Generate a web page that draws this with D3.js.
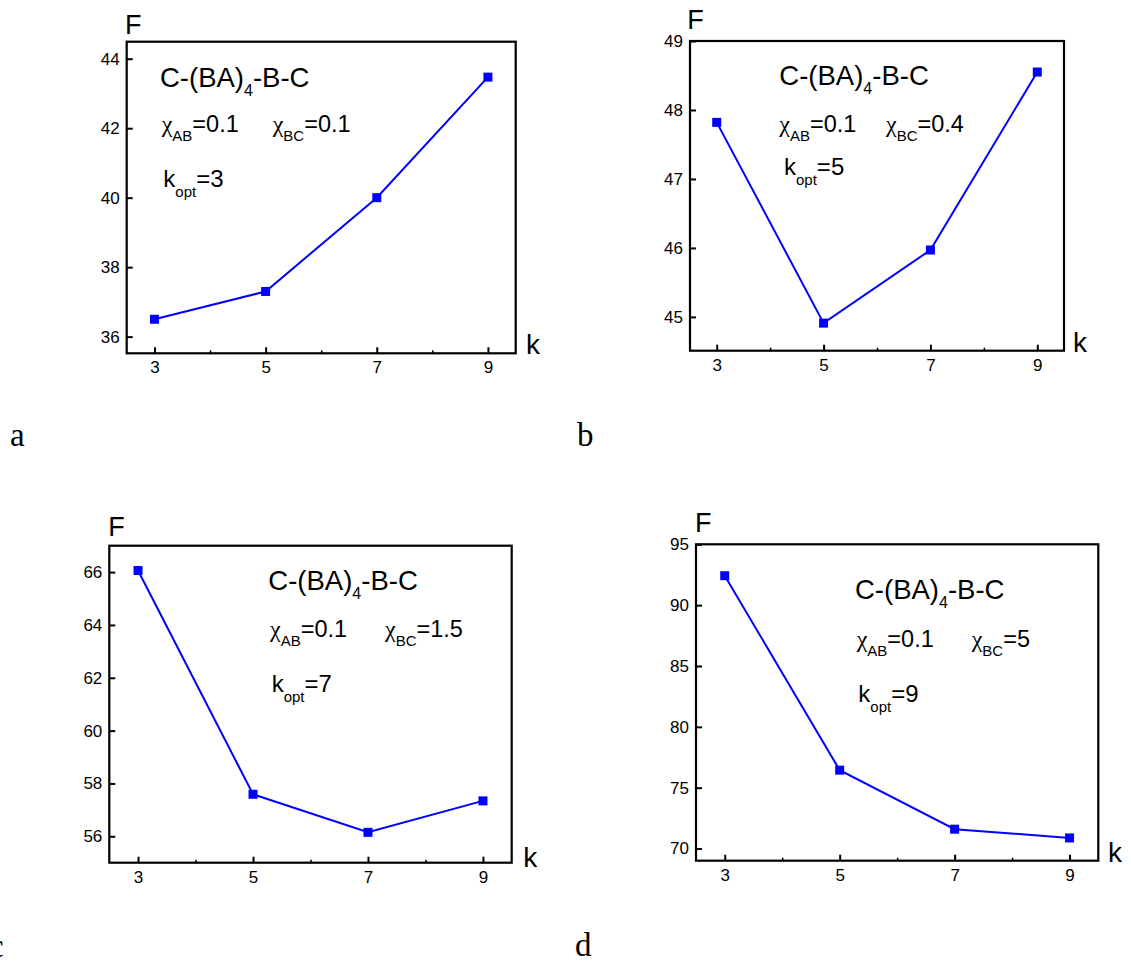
<!DOCTYPE html>
<html>
<head>
<meta charset="utf-8">
<script src="https://cdn.jsdelivr.net/npm/d3@7"></script>
<style>
  html, body { margin: 0; padding: 0; background: #ffffff; }
  svg { display: block; }
  .tick text { font-family: "Liberation Sans", Arial, sans-serif; }
</style>
</head>
<body>
<svg id="fig" width="1131" height="962"></svg>
<script>
// Free energy F versus number of blocks k for C-(BA)4-B-C
const kValues = [3, 5, 7, 9];
const fA = [36.5, 37.3, 40.0, 43.47];
const fB = [47.82, 44.91, 45.97, 48.55];
const fC = [66.06, 57.59, 56.15, 57.34];
const fD = [92.42, 76.44, 71.59, 70.87];

const ticksA = [36, 38, 40, 42, 44];
const ticksB = [45, 46, 47, 48, 49];
const ticksC = [56, 58, 60, 62, 64, 66];
const ticksD = [70, 75, 80, 85, 90, 95];

const chiAB = ["0.1", "0.1", "0.1", "0.1"];
const chiBC = ["0.1", "0.4", "1.5", "5"];
const kOpt = ["3", "5", "7", "9"];
const panelNames = ["a", "b", "c", "d"];

const xDomain = [2.5, 9.5];
const minorK = [4, 6, 8];

// frame boxes and text anchors for each panel
const panels = [
  { f: fA, ticks: ticksA, y: [35.52, 44.49],
    box: [126.7, 41.7, 515.7, 353.3],
    title: [160, 87.3], chi: [161.7, 131.7], chi2: 272.7, kopt: [163.3, 186.7],
    F: [125, 34.3], k: [526, 354], tag: [10, 446] },
  { f: fB, ticks: ticksB, y: [44.51, 49],
    box: [690, 41, 1064, 350.7],
    title: [779.3, 85], chi: [779.3, 131.7], chi2: 886, kopt: [784, 175],
    F: [687.3, 29.3], k: [1073, 351.7], tag: [577, 446] },
  { f: fC, ticks: ticksC, y: [55, 67],
    box: [109.3, 545.7, 511.7, 862.7],
    title: [268.3, 590], chi: [270, 636.7], chi2: 385, kopt: [271.7, 691.7],
    F: [108.3, 536], k: [523.3, 866.7], tag: [-11, 957] },
  { f: fD, ticks: ticksD, y: [69, 95],
    box: [696, 544.3, 1098.3, 860.7],
    title: [855, 599.3], chi: [856.7, 646.7], chi2: 971.7, kopt: [858.3, 701.7],
    F: [695, 531.7], k: [1108, 861.7], tag: [575, 956] }
];

const svg = d3.select("#fig");
const sans = "'Liberation Sans', Arial, Helvetica, sans-serif";
const greek = "'Liberation Serif', 'Times New Roman', serif";
const blue = "#0000ff";

panels.forEach((p, i) => {
  const [x0, y0, x1, y1] = p.box;
  const x = d3.scaleLinear().domain(xDomain).range([x0, x1]);
  const y = d3.scaleLinear().domain(p.y).range([y1, y0]);
  const g = svg.append("g");

  // axes with inward ticks
  const xAxis = g.append("g")
    .attr("transform", `translate(0,${y1})`)
    .call(d3.axisBottom(x).tickValues(kValues).tickSize(-6).tickPadding(8).tickFormat(d3.format("d")));
  xAxis.selectAll(".tick text").attr("font-size", 17).attr("fill", "#000");
  xAxis.selectAll(".tick line").attr("stroke", "#000").attr("stroke-width", 2);
  xAxis.select(".domain").remove();

  const xMinor = g.append("g")
    .attr("transform", `translate(0,${y1})`)
    .call(d3.axisBottom(x).tickValues(minorK).tickSize(-3).tickFormat(""));
  xMinor.selectAll(".tick line").attr("stroke", "#000").attr("stroke-width", 1.5);
  xMinor.select(".domain").remove();

  const yAxis = g.append("g")
    .attr("transform", `translate(${x0},0)`)
    .call(d3.axisLeft(y).tickValues(p.ticks).tickSize(-6).tickPadding(7).tickFormat(d3.format("d")));
  yAxis.selectAll(".tick text").attr("font-size", 17).attr("fill", "#000");
  yAxis.selectAll(".tick line").attr("stroke", "#000").attr("stroke-width", 2);
  yAxis.select(".domain").remove();

  // frame
  g.append("rect")
    .attr("x", x0).attr("y", y0)
    .attr("width", x1 - x0).attr("height", y1 - y0)
    .attr("fill", "none").attr("stroke", "#000").attr("stroke-width", 2.2);

  // series
  const pts = kValues.map((k, j) => ({ k, f: p.f[j] }));
  g.append("path")
    .datum(pts)
    .attr("fill", "none").attr("stroke", blue).attr("stroke-width", 2)
    .attr("d", d3.line().x(d => x(d.k)).y(d => y(d.f)));
  g.selectAll("rect.pt").data(pts).enter().append("rect")
    .attr("class", "pt")
    .attr("x", d => x(d.k) - 4.5).attr("y", d => y(d.f) - 4.5)
    .attr("width", 9).attr("height", 9)
    .attr("fill", blue);

  // axis titles
  g.append("text").attr("x", p.F[0]).attr("y", p.F[1])
    .attr("font-family", sans).attr("font-size", 27).text("F");
  g.append("text").attr("x", p.k[0]).attr("y", p.k[1])
    .attr("font-family", sans).attr("font-size", 28).text("k");

  // annotations
  const t = g.append("text").attr("x", p.title[0]).attr("y", p.title[1])
    .attr("font-family", sans).attr("font-size", 27.5);
  t.append("tspan").text("C-(BA)");
  t.append("tspan").attr("font-size", 16).attr("dy", 9).text("4");
  t.append("tspan").attr("dy", -9).text("-B-C");

  const c = g.append("text").attr("x", p.chi[0]).attr("y", p.chi[1])
    .attr("font-family", sans).attr("font-size", 23.5);
  c.append("tspan").attr("font-family", greek).attr("font-size", 24).text("χ");
  c.append("tspan").attr("font-size", 15).attr("dy", 9).text("AB");
  c.append("tspan").attr("dy", -9).text("=" + chiAB[i]);
  c.append("tspan").attr("x", p.chi2).attr("font-family", greek).attr("font-size", 24).text("χ");
  c.append("tspan").attr("font-size", 15).attr("dy", 9).text("BC");
  c.append("tspan").attr("dy", -9).text("=" + chiBC[i]);

  const ko = g.append("text").attr("x", p.kopt[0]).attr("y", p.kopt[1])
    .attr("font-family", sans).attr("font-size", 24);
  ko.append("tspan").text("k");
  ko.append("tspan").attr("font-size", 15).attr("dy", 10).text("opt");
  ko.append("tspan").attr("dy", -10).text("=" + kOpt[i]);

  // panel letter
  svg.append("text").attr("x", p.tag[0]).attr("y", p.tag[1])
    .attr("font-family", "'Liberation Serif', 'Times New Roman', serif")
    .attr("font-size", 33).text(panelNames[i]);
});
</script>
</body>
</html>
